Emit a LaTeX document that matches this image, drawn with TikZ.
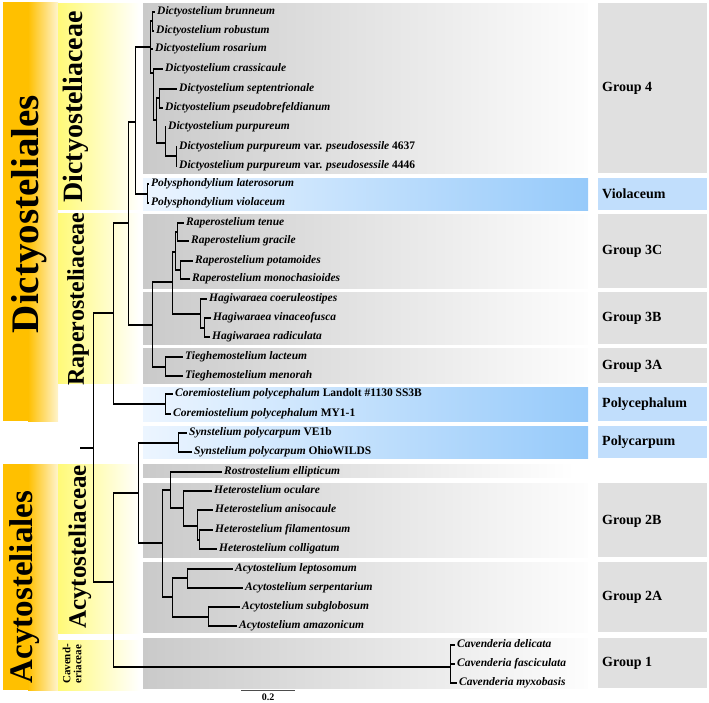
\documentclass[tikz,border=0pt]{standalone}
\usepackage{fontspec}
\setmainfont{Liberation Serif}
\definecolor{org}{RGB}{255,192,0}
\definecolor{orgr}{RGB}{255,244,205}
\definecolor{yel}{RGB}{255,250,120}
\definecolor{grayL}{RGB}{202,202,202}
\definecolor{grayR}{RGB}{253,253,253}
\definecolor{grpbox}{RGB}{224,224,224}
\definecolor{blueL}{RGB}{236,245,255}
\definecolor{blueR}{RGB}{150,202,250}
\definecolor{bluebox}{RGB}{193,222,252}
\tikzset{
  hb/.style={line width=2.9pt},
  vb/.style={line width=1pt},
  sp/.style={anchor=west, inner xsep=2pt, inner ysep=0pt,
    font=\fontsize{11.5}{12}\selectfont\bfseries\itshape, text height=8pt, text depth=2.5pt},
  grp/.style={anchor=west, font=\fontsize{14}{16}\selectfont\bfseries, inner sep=0pt},
  big/.style={rotate=90, inner sep=0pt, align=center},
  gbox/.style={left color=grayL, right color=grayR},
  bbox/.style={left color=blueL, right color=blueR},
}
\newcommand{\tbr}[2]{\draw[vb] (#1) -- (#1 |- #2); \draw[hb] (#1 |- #2) -- (#2);}
\begin{document}
\begin{tikzpicture}[x=1pt,y=-1pt]
\useasboundingbox (0,0) rectangle (709,702);
% ---------- left bands ----------
\fill[org] (3,2) rectangle (28,421);
\shade[left color=org, right color=orgr] (28,2) rectangle (58,421);
\fill[org] (3,464) rectangle (28,690);
\shade[left color=org, right color=orgr] (28,464) rectangle (58,690);
\shade[left color=yel, right color=white] (58,3) rectangle (140,209);
\shade[left color=yel, right color=white] (58,213) rectangle (140,383);
\shade[left color=yel, right color=white] (58,464) rectangle (140,633);
\shade[left color=yel, right color=white] (58,640) rectangle (140,690);
\node[big, font=\fontsize{39}{40}\selectfont\bfseries] (ordD) at (29,214) {Dictyosteliales};
\node[big, font=\fontsize{33}{34}\selectfont\bfseries] (ordA) at (25,587) {Acytosteliales};
\node[big, font=\fontsize{28}{29}\selectfont\bfseries] (famD) at (76,107) {Dictyosteliaceae};
\node[big, font=\fontsize{24}{25}\selectfont\bfseries] (famR) at (78,299) {Raperosteliaceae};
\node[big, font=\fontsize{25}{26}\selectfont\bfseries] (famA) at (80,547) {Acytosteliaceae};
\node[big, font=\fontsize{11}{11}\selectfont\bfseries] (famC) at (72,664) {Cavend-\\eriaceae};
% ---------- species bands ----------
\shade[gbox] (143,3) rectangle (588,173);
\shade[bbox] (143,178) rectangle (588,210);
\shade[gbox] (143,214) rectangle (588,288);
\shade[gbox] (143,292) rectangle (588,344);
\shade[gbox] (143,348) rectangle (588,383);
\shade[bbox] (143,387) rectangle (588,421);
\shade[bbox] (143,426) rectangle (588,458);
\shade[left color=grayL, right color=white] (143,464) rectangle (575,477);
\shade[gbox] (143,483) rectangle (588,557);
\shade[gbox] (143,562) rectangle (588,632);
\shade[gbox] (143,638) rectangle (588,688);
% ---------- group boxes ----------
\fill[grpbox] (598,3) rectangle (707,173);
\fill[bluebox] (598,178) rectangle (707,210);
\fill[grpbox] (598,214) rectangle (707,288);
\fill[grpbox] (598,292) rectangle (707,344);
\fill[grpbox] (598,348) rectangle (707,383);
\fill[bluebox] (598,387) rectangle (707,421);
\fill[bluebox] (598,426) rectangle (707,458);
\fill[grpbox] (598,483) rectangle (707,557);
\fill[grpbox] (598,562) rectangle (707,632);
\fill[grpbox] (598,638) rectangle (707,688);
\node[grp] (g4) at (602,88) {Group 4};
\node[grp] (gv) at (602,194) {Violaceum};
\node[grp] (g3c) at (602,251) {Group 3C};
\node[grp] (g3b) at (602,318) {Group 3B};
\node[grp] (g3a) at (602,366) {Group 3A};
\node[grp] (gpce) at (602,404) {Polycephalum};
\node[grp] (gpca) at (602,442) {Polycarpum};
\node[grp] (g2b) at (602,521) {Group 2B};
\node[grp] (g2a) at (602,597) {Group 2A};
\node[grp] (g1) at (602,663) {Group 1};
% ---------- species labels ----------
\node[sp] (n1) at (155,12) {Dictyostelium brunneum};
\node[sp] (n2) at (154,31) {Dictyostelium robustum};
\node[sp] (n3) at (153,49) {Dictyostelium rosarium};
\node[sp] (n4) at (163,69) {Dictyostelium crassicaule};
\node[sp] (n5) at (177,89) {Dictyostelium septentrionale};
\node[sp] (n6) at (163,108) {Dictyostelium pseudobrefeldianum};
\node[sp] (n7) at (166,127) {Dictyostelium purpureum};
\node[sp] (n8) at (177,147) {Dictyostelium purpureum {\upshape var.} pseudosessile {\upshape 4637}};
\node[sp] (n9) at (177,166) {Dictyostelium purpureum {\upshape var.} pseudosessile {\upshape 4446}};
\node[sp] (n10) at (149,184) {Polysphondylium laterosorum};
\node[sp] (n11) at (149,203) {Polysphondylium violaceum};
\node[sp] (n12) at (184,223) {Raperostelium tenue};
\node[sp] (n13) at (189,241) {Raperostelium gracile};
\node[sp] (n14) at (193,261) {Raperostelium potamoides};
\node[sp] (n15) at (190,279) {Raperostelium monochasioides};
\node[sp] (n16) at (207,299) {Hagiwaraea coeruleostipes};
\node[sp] (n17) at (211,318) {Hagiwaraea vinaceofusca};
\node[sp] (n18) at (210,337) {Hagiwaraea radiculata};
\node[sp] (n19) at (183,357) {Tieghemostelium lacteum};
\node[sp] (n20) at (183,376) {Tieghemostelium menorah};
\node[sp] (n21) at (173,394) {Coremiostelium polycephalum {\upshape Landolt \#1130 SS3B}};
\node[sp] (n22) at (171,414) {Coremiostelium polycephalum {\upshape MY1-1}};
\node[sp] (n23) at (187,433) {Synstelium polycarpum {\upshape VE1b}};
\node[sp] (n24) at (192,452) {Synstelium polycarpum {\upshape OhioWILDS}};
\node[sp] (n25) at (222,472) {Rostrostelium ellipticum};
\node[sp] (n26) at (212,491) {Heterostelium oculare};
\node[sp] (n27) at (213,510) {Heterostelium anisocaule};
\node[sp] (n28) at (213,530) {Heterostelium filamentosum};
\node[sp] (n29) at (217,549) {Heterostelium colligatum};
\node[sp] (n30) at (233,569) {Acytostelium leptosomum};
\node[sp] (n31) at (243,588) {Acytostelium serpentarium};
\node[sp] (n32) at (240,607) {Acytostelium subglobosum};
\node[sp] (n33) at (237,626) {Acytostelium amazonicum};
\node[sp] (n34) at (455,645) {Cavenderia delicata};
\node[sp] (n35) at (455,664) {Cavenderia fasciculata};
\node[sp] (n36) at (457,683) {Cavenderia myxobasis};
% ---------- internal nodes ----------
\coordinate (rs) at (80,448);
\coordinate (r0) at (93,448);
\coordinate (A) at (113,313);
\coordinate (B) at (128,223);
\coordinate (C) at (135,122);
\coordinate (D) at (150,47);
\coordinate (bb) at (152,21);
\coordinate (K) at (153,73);
\coordinate (L) at (156,120);
\coordinate (M) at (159,98);
\coordinate (N) at (165,143);
\coordinate (O) at (176,156);
\coordinate (P) at (147,194);
\coordinate (E) at (152,325);
\coordinate (F) at (172,282);
\coordinate (G) at (175,252);
\coordinate (G1) at (177,232);
\coordinate (G2) at (180,270);
\coordinate (H) at (200,314);
\coordinate (H2) at (204,328);
\coordinate (T) at (165,367);
\coordinate (Co) at (165,404);
\coordinate (Ac) at (113,582);
\coordinate (Ay) at (138,493);
\coordinate (S) at (178,443);
\coordinate (Q) at (162,543);
\coordinate (R) at (170,490);
\coordinate (Het) at (183,508);
\coordinate (Het2) at (197,526);
\coordinate (Het3) at (199,540);
\coordinate (Acy) at (172,597);
\coordinate (Acy1) at (187,578);
\coordinate (Acy2) at (208,617);
\coordinate (Cav) at (450,667);
% ---------- branches ----------
\draw[hb] (rs) -- (r0);
\tbr{r0}{A} \tbr{r0}{Ac}
\tbr{A}{B} \tbr{A}{Co}
\tbr{B}{C} \tbr{B}{E}
\tbr{C}{D} \tbr{C}{P}
\tbr{D}{bb} \tbr{D}{n3.west} \tbr{D}{K}
\tbr{bb}{n1.west} \tbr{bb}{n2.west}
\tbr{K}{n4.west} \tbr{K}{L}
\tbr{L}{M} \tbr{L}{N}
\tbr{M}{n5.west} \tbr{M}{n6.west}
\tbr{N}{n7.west} \tbr{N}{O}
\tbr{O}{n8.west} \tbr{O}{n9.west}
\tbr{P}{n10.west} \tbr{P}{n11.west}
\tbr{E}{F} \tbr{E}{T}
\tbr{F}{G} \tbr{F}{H}
\tbr{G}{G1} \tbr{G}{G2}
\tbr{G1}{n12.west} \tbr{G1}{n13.west}
\tbr{G2}{n14.west} \tbr{G2}{n15.west}
\tbr{H}{n16.west} \tbr{H}{H2}
\tbr{H2}{n17.west} \tbr{H2}{n18.west}
\tbr{T}{n19.west} \tbr{T}{n20.west}
\tbr{Co}{n21.west} \tbr{Co}{n22.west}
\tbr{Ac}{Ay} \tbr{Ac}{Cav}
\tbr{Ay}{S} \tbr{Ay}{Q}
\tbr{S}{n23.west} \tbr{S}{n24.west}
\tbr{Q}{R} \tbr{Q}{Acy}
\tbr{R}{n25.west} \tbr{R}{Het}
\tbr{Het}{n26.west} \tbr{Het}{Het2}
\tbr{Het2}{n27.west} \tbr{Het2}{Het3}
\tbr{Het3}{n28.west} \tbr{Het3}{n29.west}
\tbr{Acy}{Acy1} \tbr{Acy}{Acy2}
\tbr{Acy1}{n30.west} \tbr{Acy1}{n31.west}
\tbr{Acy2}{n32.west} \tbr{Acy2}{n33.west}
\tbr{Cav}{n34.west} \tbr{Cav}{n35.west} \tbr{Cav}{n36.west}
% ---------- scale bar ----------
\coordinate (sb1) at (241,690);
\coordinate (sb2) at (295,690);
\draw[line width=1pt, black!70] (sb1) -- (sb2);
\node[font=\fontsize{10}{10}\selectfont\bfseries, inner sep=0pt] (sbl) at (268,697) {0.2};
\end{tikzpicture}
\end{document}
